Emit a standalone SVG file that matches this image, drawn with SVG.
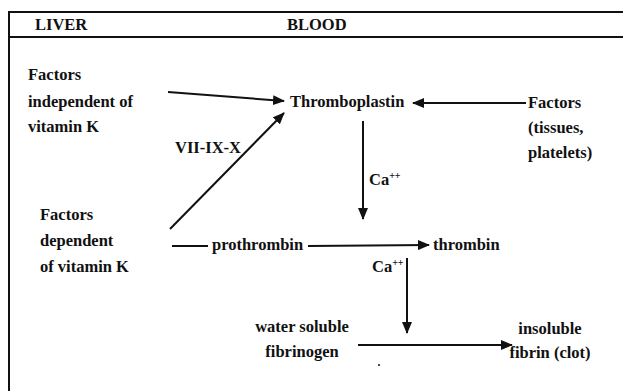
<svg xmlns="http://www.w3.org/2000/svg" width="623" height="391" viewBox="0 0 623 391">
<style>
.t{font-family:'Liberation Serif','Times New Roman',serif;font-size:16.5px;fill:#111;font-weight:bold}
.c{stroke:#111;stroke-width:2;fill:none}
.frame{stroke:#111;stroke-width:2;fill:none}
</style>
<defs>
<marker id="ah" markerWidth="12" markerHeight="10" refX="11" refY="5" orient="auto" markerUnits="userSpaceOnUse">
<path d="M0,0 L12,5 L0,10 Z" fill="#111"/>
</marker>
</defs>
<rect width="623" height="391" fill="#fff"/>
<g id="frame">
<path class="frame" d="M9,391 V12 H623"/>
<path class="frame" d="M9,37 H623"/>
<text class="t" x="35" y="30">LIVER</text>
<text class="t" x="287" y="30">BLOOD</text>
</g>
<g id="connectors">
<line class="c" x1="168" y1="92" x2="284" y2="101" marker-end="url(#ah)"/>
<line class="c" x1="526" y1="103" x2="413" y2="103" marker-end="url(#ah)"/>
<line class="c" x1="170" y1="229" x2="284" y2="113" marker-end="url(#ah)"/>
<line class="c" x1="363" y1="121" x2="363" y2="219" marker-end="url(#ah)"/>
<line class="c" x1="172" y1="246" x2="208" y2="246"/>
<line class="c" x1="308" y1="246" x2="429" y2="245" marker-end="url(#ah)"/>
<line class="c" x1="407" y1="258" x2="407" y2="333" marker-end="url(#ah)"/>
<line class="c" x1="358" y1="345" x2="512" y2="345" marker-end="url(#ah)"/>
</g>
<g id="liver-independent">
<text class="t" x="28" y="80">Factors</text>
<text class="t" x="28" y="107">independent of</text>
<text class="t" x="28" y="132">vitamin K</text>
</g>
<g id="thromboplastin"><text class="t" x="290" y="107">Thromboplastin</text></g>
<g id="factors-tissues">
<text class="t" x="528" y="108">Factors</text>
<text class="t" x="528" y="133">(tissues,</text>
<text class="t" x="528" y="158">platelets)</text>
</g>
<g id="label-vii"><text class="t" x="175" y="153">VII-IX-X</text></g>
<g id="label-ca1"><text class="t" x="369" y="185">Ca<tspan font-size="10" dy="-6">++</tspan></text></g>
<g id="liver-dependent">
<text class="t" x="40" y="220">Factors</text>
<text class="t" x="40" y="246">dependent</text>
<text class="t" x="40" y="272">of vitamin K</text>
</g>
<g id="prothrombin"><text class="t" x="212" y="250">prothrombin</text></g>
<g id="label-ca2"><text class="t" x="372" y="272">Ca<tspan font-size="10" dy="-6">++</tspan></text></g>
<g id="thrombin"><text class="t" x="433" y="250">thrombin</text></g>
<g id="fibrinogen">
<text class="t" x="302" y="332" text-anchor="middle">water soluble</text>
<text class="t" x="302" y="357" text-anchor="middle">fibrinogen</text>
</g>
<g id="fibrin">
<text class="t" x="550" y="334" text-anchor="middle">insoluble</text>
<text class="t" x="550" y="358" text-anchor="middle">fibrin (clot)</text>
</g>
<circle cx="379" cy="365" r="1" fill="#111"/>
</svg>
